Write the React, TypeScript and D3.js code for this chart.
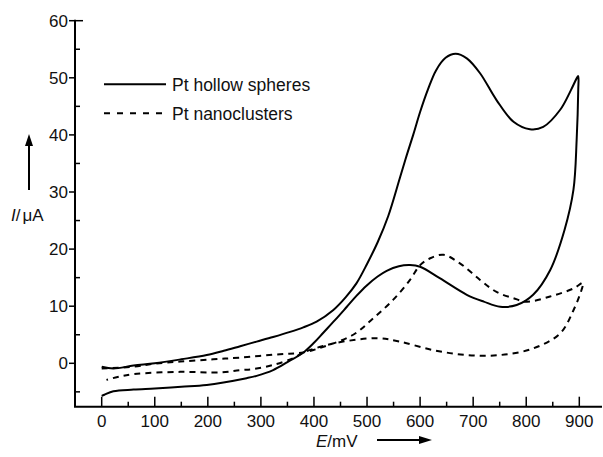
import React from "react";
import * as d3 from "d3";

// Pt hollow spheres CV loop (E in mV, I in µA), in scan order
const hollowE = [0, 22, 60, 100, 150, 198, 230, 261, 292, 323, 355, 380, 405, 436, 460, 480, 500, 520, 540, 562, 575, 587, 600, 615, 630, 648, 667, 688, 713, 744, 776, 807, 832, 864, 884, 895, 898,
  898, 895, 889, 872, 845, 813, 782, 751, 720, 688, 637, 600, 581, 560, 537, 520, 499, 480, 462, 440, 418, 400, 380, 350, 323, 292, 273, 198, 150, 100, 60, 22, 5, 0];
const hollowI = [-0.6, -0.9, -0.4, 0, 0.7, 1.45, 2.2, 3.0, 3.8, 4.6, 5.5, 6.3, 7.3, 9.3, 11.6, 14.0, 17.4, 21.2, 25.8, 32.5, 36.5, 40.0, 44.0, 48.0, 51.3, 53.5, 54.2, 53.4, 50.8, 46.1, 42.3, 41.0, 41.4, 44.4, 47.8, 49.9, 50.3,
  47.9, 39.1, 30.4, 23.3, 16.3, 12.0, 10.2, 9.9, 10.8, 12.0, 14.9, 16.9, 17.2, 17.0, 16.2, 15.2, 13.6, 11.8, 9.9, 7.6, 5.4, 3.6, 1.9, 0.2, -1.2, -2.2, -2.6, -3.8, -4.1, -4.4, -4.6, -4.9, -5.5, -5.7];

// Pt nanoclusters CV loop
const clusterE = [0, 60, 97, 148, 210, 261, 336, 380, 418, 474, 512, 549, 581, 600, 619, 644, 675, 713, 744, 776, 801, 845, 889, 907,
  904, 889, 864, 813, 751, 688, 625, 562, 518, 455, 420, 380, 361, 323, 286, 261, 223, 148, 60, 30, 9];
const clusterI = [-0.9, -0.6, -0.1, 0.3, 0.7, 1.0, 1.6, 1.9, 2.9, 5.0, 7.9, 11.1, 14.6, 17.2, 18.4, 19.0, 17.5, 14.6, 12.5, 11.4, 10.8, 11.7, 13.1, 14.1,
  12.8, 9.3, 5.25, 2.6, 1.45, 1.45, 2.3, 3.8, 4.4, 3.8, 3.1, 1.9, 0.9, -0.3, -1.0, -1.2, -1.6, -1.5, -1.9, -2.4, -2.9];

const xMajor = [0, 100, 200, 300, 400, 500, 600, 700, 800, 900];
const xMinor = [50, 150, 250, 350, 450, 550, 650, 750, 850];
const yMajor = [0, 10, 20, 30, 40, 50, 60];
const yMinor = [-5, 5, 15, 25, 35, 45, 55];
const legendLabels = ["Pt hollow spheres", "Pt nanoclusters"];

const W = 603, H = 457;
const axisX = 75, axisY = 406.7;
const FONT = "Liberation Sans, Arial, Helvetica, sans-serif";

export default function App() {
  const x = d3.scaleLinear().domain([0, 900]).range([101.7, 579.3]);
  const y = d3.scaleLinear().domain([0, 60]).range([363.3, 20.7]);
  const line = d3.line<[number, number]>().x(d => x(d[0])).y(d => y(d[1])).curve(d3.curveCatmullRom.alpha(0.5));
  const hollow = hollowE.map((e, i) => [e, hollowI[i]] as [number, number]);
  const cluster = clusterE.map((e, i) => [e, clusterI[i]] as [number, number]);

  return (
    <svg width={W} height={H} style={{ position: "absolute", left: 0, top: 0, background: "#fff" }} fontFamily={FONT}>
      <rect width={W} height={H} fill="#fff" />
      {/* axes */}
      <line x1={axisX} x2={axisX} y1={y(60) - 1} y2={axisY} stroke="#000" strokeWidth={2} />
      <line x1={axisX - 1} x2={602} y1={axisY} y2={axisY} stroke="#000" strokeWidth={2} />
      {yMajor.map(v => (
        <g key={"ym" + v}>
          <line x1={axisX - 6} x2={axisX} y1={y(v)} y2={y(v)} stroke="#000" strokeWidth={1.5} />
          <text x={68} y={y(v)} dy="0.36em" textAnchor="end" fontSize={17} fill="#111">{v}</text>
        </g>
      ))}
      <line x1={axisX} x2={axisX + 8} y1={y(60)} y2={y(60)} stroke="#000" strokeWidth={1.5} />
      {yMinor.map(v => (
        <line key={"yn" + v} x1={axisX} x2={axisX + 5} y1={y(v)} y2={y(v)} stroke="#000" strokeWidth={1.5} />
      ))}
      {xMajor.map(v => (
        <g key={"xm" + v}>
          <line x1={x(v)} x2={x(v)} y1={axisY - 10} y2={axisY} stroke="#000" strokeWidth={1.5} />
          <text x={x(v)} y={426.5} textAnchor="middle" fontSize={17} fill="#111">{v}</text>
        </g>
      ))}
      {xMinor.map(v => (
        <line key={"xn" + v} x1={x(v)} x2={x(v)} y1={axisY - 5} y2={axisY} stroke="#000" strokeWidth={1.5} />
      ))}

      {/* curves */}
      <path d={line(cluster) ?? ""} fill="none" stroke="#000" strokeWidth={2} strokeDasharray="6,5" />
      <path d={line(hollow) ?? ""} fill="none" stroke="#000" strokeWidth={2} />

      {/* legend */}
      <line x1={104} x2={166} y1={84.3} y2={84.3} stroke="#000" strokeWidth={2} />
      <text x={172} y={84.3} dy="0.36em" fontSize={17.5} fill="#111">{legendLabels[0]}</text>
      <line x1={104} x2={166} y1={113.3} y2={113.3} stroke="#000" strokeWidth={2} strokeDasharray="6,7" />
      <text x={172} y={113.3} dy="0.36em" fontSize={17.5} fill="#111">{legendLabels[1]}</text>

      {/* y label */}
      <line x1={29} x2={29} y1={190} y2={143} stroke="#000" strokeWidth={2} />
      <path d="M29,134 L25,146 L33,146 Z" fill="#000" />
      <text x={11} y={221} fontSize={17} fill="#111"><tspan fontStyle="italic">I</tspan>/<tspan dx={2}>μA</tspan></text>

      {/* x label */}
      <text x={316} y={446.5} fontSize={17} fill="#111"><tspan fontStyle="italic">E</tspan>/mV</text>
      <line x1={377} x2={420} y1={440} y2={440} stroke="#000" strokeWidth={2} />
      <path d="M432,440 L419,436 L419,444 Z" fill="#000" />
    </svg>
  );
}
